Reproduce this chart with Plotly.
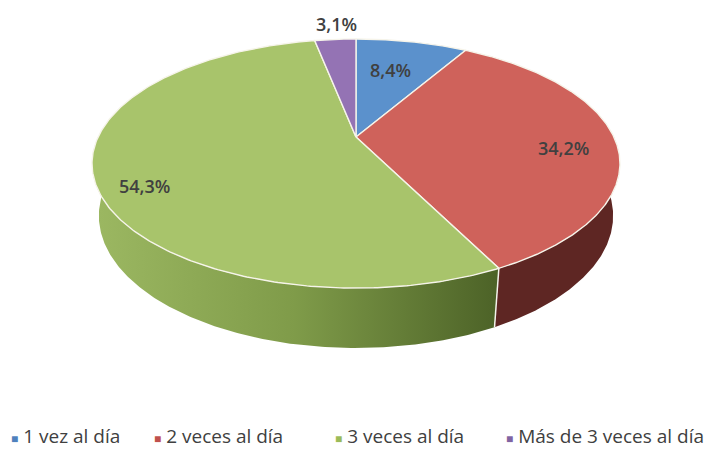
import numpy as np
import plotly.graph_objects as go

# ---------------- data ----------------
categories = ["1 vez al día", "2 veces al día", "3 veces al día", "Más de 3 veces al día"]
values = [8.4, 34.2, 54.3, 3.1]
value_labels = ["8,4%", "34,2%", "54,3%", "3,1%"]

# ---------------- style ----------------
top_colors = ["#5b91cc", "#cf625b", "#a8c46b", "#9473b4"]
side_colors = ["#2f4e73", "#5e2623", "#7e9a48", "#56426f"]
green_side_scale = [[0, "#9cb862"], [0.5, "#7f9b49"], [1, "#4c6227"]]
legend_square_colors = ["#4f81bd", "#c0504d", "#9bbb59", "#8064a2"]
text_color = "#404040"
W, H_PX = 716, 450
PAGE_OFF = 8          # default body margin of the html page
FIG_W, FIG_H = W - PAGE_OFF, H_PX - PAGE_OFF

# perspective camera for a tilted 3D disc (pixel space)
CX, CY = 356.0, 137.0      # projected centre of the top face
FOC = 1074.0               # focal length
DIST = 4.164               # camera distance (disc radius = 1)
ELEV = np.arcsin(0.461)    # camera elevation
SA, CA = np.sin(ELEV), np.cos(ELEV)
THICK = 0.2295             # disc thickness

label_radius = [0.75, 0.75, 0.75, 1.22]
label_nudge = [(-9, -8), (13, -8), (-18, -19), (5, -2)]   # (xshift, yshift) in px


def proj(r, phi, h=0.0):
    u = r * np.sin(phi)
    v = r * np.cos(phi)
    yc = h * CA + v * SA
    d = DIST + v * CA - h * SA
    return CX + FOC * u / d, CY - FOC * yc / d


total = float(sum(values))
fracs = np.array(values) / total
bounds = np.concatenate([[0.0], np.cumsum(fracs)]) * 2 * np.pi

fig = go.Figure()

# ---- outer side walls (front half only) ----
front_lo, front_hi = np.pi / 2, 3 * np.pi / 2
for i in range(len(values)):
    a, b = max(bounds[i], front_lo), min(bounds[i + 1], front_hi)
    if b <= a:
        continue
    phis = np.linspace(a, b, 200)
    xt, yt = proj(1.0, phis, 0.0)
    xb, yb = proj(1.0, phis[::-1], -THICK)
    xs = np.concatenate([xt, xb, xt[:1]])
    ys = np.concatenate([yt, yb, yt[:1]])
    kw = dict(fillcolor=side_colors[i])
    if i == 2:
        kw = dict(fillgradient=dict(type="horizontal", colorscale=green_side_scale))
    fig.add_trace(go.Scatter(x=xs, y=ys, mode="lines", fill="toself",
                             line=dict(width=0, color=side_colors[i]),
                             hoverinfo="skip", showlegend=False, **kw))

# vertical white edges where slice boundaries meet the front wall
for k in range(1, len(values)):
    phi = bounds[k]
    if front_lo < phi < front_hi:
        x0, y0 = proj(1.0, phi, 0.0)
        x1, y1 = proj(1.0, phi, -THICK)
        fig.add_trace(go.Scatter(x=[x0, x1], y=[y0, y1], mode="lines",
                                 line=dict(color="#f4f4ec", width=1.5),
                                 hoverinfo="skip", showlegend=False))

# ---- top faces ----
for i in range(len(values)):
    phis = np.linspace(bounds[i], bounds[i + 1], 300)
    xa, ya = proj(1.0, phis, 0.0)
    xc, yc = proj(0.0, 0.0, 0.0)
    xs = np.concatenate([[xc], xa, [xc]])
    ys = np.concatenate([[yc], ya, [yc]])
    fig.add_trace(go.Scatter(x=xs, y=ys, mode="lines", fill="toself",
                             fillcolor=top_colors[i],
                             line=dict(color="#f6f4ea", width=1.4),
                             hoverinfo="skip", showlegend=False))

# ---- value labels ----
annotations = []
for i in range(len(values)):
    mid = (bounds[i] + bounds[i + 1]) / 2
    lx, ly = proj(label_radius[i], mid, 0.0)
    annotations.append(dict(x=float(lx), y=float(ly), xref="x", yref="y",
                            text=value_labels[i], showarrow=False,
                            xshift=label_nudge[i][0], yshift=label_nudge[i][1],
                            font=dict(family="Open Sans", size=18, color=text_color,
                                      weight=600)))

# ---- legend (Excel-style, single row) ----
legend_x = [9, 152, 333, 504]
for i, name in enumerate(categories):
    annotations.append(dict(
        x=legend_x[i], y=436, xref="x", yref="y", xanchor="left", yanchor="middle",
        showarrow=False,
        text=(f"<span style='color:{legend_square_colors[i]};font-size:12px'>■</span>"
              f" {name}"),
        font=dict(family="Open Sans", size=19, color=text_color)))

fig.update_layout(
    width=FIG_W, height=FIG_H,
    margin=dict(l=0, r=0, t=0, b=0),
    paper_bgcolor="white", plot_bgcolor="white",
    xaxis=dict(range=[PAGE_OFF, W], visible=False, fixedrange=True),
    yaxis=dict(range=[H_PX, PAGE_OFF], visible=False, fixedrange=True),
    annotations=annotations,
    showlegend=False,
)

fig.write_html("out.html")
